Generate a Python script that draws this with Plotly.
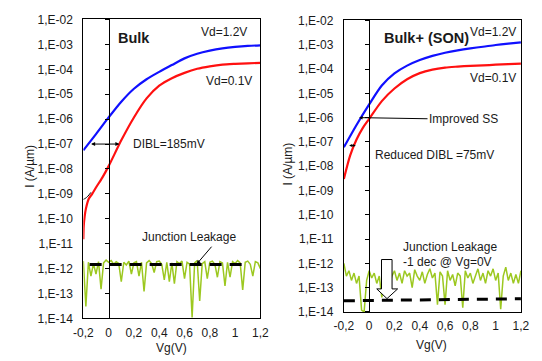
import numpy as np
import plotly.graph_objects as go

# ---------------- data ----------------
# Bulk (left panel)
bulk_x_hi = [-0.2, -0.1, 0.0, 0.1, 0.2, 0.3, 0.4, 0.5, 0.6, 0.7, 0.8, 0.9, 1.0, 1.1, 1.2]
bulk_i_hi = [5.6e-8, 2.5e-7, 1.17e-6, 5.0e-6, 1.66e-5, 4.0e-5, 7.9e-5, 1.48e-4, 2.75e-4, 4.2e-4,
             5.6e-4, 6.9e-4, 7.9e-4, 8.7e-4, 9.2e-4]
bulk_x_lo = [-0.2, -0.197, -0.19, -0.18, -0.157, -0.13, -0.1, -0.05, 0.0, 0.1, 0.2, 0.3,
             0.4, 0.5, 0.6, 0.7, 0.8, 0.9, 1.0, 1.1, 1.2]
bulk_i_lo = [1.5e-11, 5e-11, 1.2e-10, 2.5e-10, 6.4e-10, 1.0e-9, 1.8e-9, 4.5e-9, 1.3e-8, 1.41e-7, 1.17e-6, 6.8e-6,
             2.2e-5, 4.4e-5, 7.2e-5, 1.05e-4, 1.32e-4, 1.55e-4, 1.66e-4, 1.74e-4, 1.82e-4]

# SON (right panel)
son_x_hi = [-0.2, -0.1, 0.0, 0.1, 0.2, 0.3, 0.4, 0.5, 0.6, 0.7, 0.8, 0.9, 1.0, 1.1, 1.2]
son_i_hi = [6.0e-8, 5.0e-7, 3.5e-6, 2.1e-5, 6.6e-5, 1.38e-4, 2.34e-4, 3.5e-4, 4.7e-4, 5.9e-4,
            7.1e-4, 8.3e-4, 9.8e-4, 1.12e-3, 1.26e-3]
son_x_lo = [-0.2, -0.15, -0.1, -0.05, 0.0, 0.1, 0.2, 0.3, 0.4, 0.5, 0.6, 0.7, 0.8, 0.9, 1.0, 1.1, 1.2]
son_i_lo = [3.0e-9, 2.8e-8, 1.26e-7, 3.8e-7, 8.9e-7, 4.8e-6, 1.58e-5, 3.8e-5, 6.8e-5, 9.5e-5,
            1.15e-4, 1.26e-4, 1.35e-4, 1.41e-4, 1.51e-4, 1.58e-4, 1.66e-4]

# junction leakage (measured noise), sampled every 20 mV from -0.2 to 1.2 V
leak_vg = [-0.20, -0.18, -0.16, -0.14, -0.12, -0.10, -0.08, -0.06, -0.04, -0.02,
           0.00, 0.02, 0.04, 0.06, 0.08, 0.10, 0.12, 0.14, 0.16, 0.18,
           0.20, 0.22, 0.24, 0.26, 0.28, 0.30, 0.32, 0.34, 0.36, 0.38,
           0.40, 0.42, 0.44, 0.46, 0.48, 0.50, 0.52, 0.54, 0.56, 0.58,
           0.60, 0.62, 0.64, 0.66, 0.68, 0.70, 0.72, 0.74, 0.76, 0.78,
           0.80, 0.82, 0.84, 0.86, 0.88, 0.90, 0.92, 0.94, 0.96, 0.98,
           1.00, 1.02, 1.04, 1.06, 1.08, 1.10, 1.12, 1.14, 1.16, 1.18, 1.20]
bulk_leak_pA = [2.0, 0.03, 1.8, 0.5, 1.6, 0.6, 1.9, 0.15, 1.7, 2.2,
                1.8, 2.1, 1.5, 1.9, 1.6, 0.3, 1.8, 1.4, 2.0, 0.6,
                1.7, 1.9, 0.5, 1.8, 0.12, 1.7, 2.1, 1.6, 0.7, 1.9,
                2.0, 1.5, 0.35, 1.8, 0.3, 1.7, 0.25, 1.9, 1.6, 2.0,
                0.4, 1.8, 1.5, 0.011, 1.7, 2.1, 0.05, 1.6, 1.9, 0.4,
                1.8, 2.0, 1.5, 0.45, 1.9, 1.7, 0.2, 1.8, 0.45, 1.9,
                1.6, 2.1, 1.7, 0.14, 1.8, 2.0, 1.5, 0.5, 1.9, 1.7, 1.0]
son_leak_e13 = [10, 3, 5, 2, 4, 1.5, 3, 0.12, 0.1, 2,
                5, 2.5, 4, 1.5, 3, 0.4, 2, 3.5, 1.2, 3,
                5, 2, 4, 1.5, 5, 3, 4, 1.0, 5.5, 3,
                2, 4.5, 1.5, 3.5, 6, 2.5, 4, 0.2, 4.5, 3,
                0.2, 5, 2, 3.5, 1.2, 4, 3, 0.15, 5, 2.5,
                4, 1.5, 3, 6, 2, 4, 1.5, 5, 3, 6,
                2, 4, 0.13, 3, 7, 2, 4, 1.5, 3.5, 1.5, 5]

# dashed leakage fits
bulk_fit_x = [-0.15, 1.09]
bulk_fit_i = [1.45e-12, 1.45e-12]
son_fit_x = [-0.2, 1.2]
son_fit_i = [2.9e-14, 3.5e-14]

y_tickvals = [1e-14, 1e-13, 1e-12, 1e-11, 1e-10, 1e-9, 1e-8, 1e-7, 1e-6, 1e-5, 1e-4, 1e-3, 1e-2]
y_ticktext = ['1,E-14', '1,E-13', '1,E-12', '1,E-11', '1,E-10', '1,E-09', '1,E-08',
              '1,E-07', '1,E-06', '1,E-05', '1,E-04', '1,E-03', '1,E-02']
x_tickvals = [-0.2, 0, 0.2, 0.4, 0.6, 0.8, 1.0, 1.2]
x_ticktext = ['-0,2', '0', '0,2', '0,4', '0,6', '0,8', '1', '1,2']

# ---------------- styling ----------------
W, H = 542, 361
FONT = 'Liberation Sans, Arial, sans-serif'
TXT = '#1a1a1a'
BLUE = '#1010ff'
RED = '#ff1010'
GREEN = '#9cc820'

LXD = [76 / W, 259.5 / W]
LYD = [1 - 324 / H, 1 - 13 / H]
RXD = [346 / W, 529.5 / W]
RYD = [1 - 317.3 / H, 1 - 14 / H]

leak_bulk = [v * 1e-12 for v in bulk_leak_pA]
leak_son = [v * 1e-13 for v in son_leak_e13]

fig = go.Figure()

def add(x, y, xa, ya, **kw):
    fig.add_trace(go.Scatter(x=x, y=y, xaxis=xa, yaxis=ya, mode='lines',
                             showlegend=False, hoverinfo='skip', **kw))

# left panel
add(leak_vg, leak_bulk, 'x', 'y', line=dict(color=GREEN, width=1.5))
add(bulk_fit_x, bulk_fit_i, 'x', 'y', line=dict(color='black', width=3, dash='12px,8px'))
add(bulk_x_hi, bulk_i_hi, 'x', 'y', line=dict(color=BLUE, width=2.2, shape='spline', smoothing=0.8))
add(bulk_x_lo, bulk_i_lo, 'x', 'y', line=dict(color=RED, width=2.2, shape='spline', smoothing=0.6))
# small bracket near the subthreshold tail
add([-0.2, -0.185, -0.165, -0.14], [6e-10, 6.6e-10, 8e-10, 1.15e-9], 'x', 'y',
    line=dict(color='black', width=1, shape='spline'))

# right panel
add(leak_vg, leak_son, 'x2', 'y2', line=dict(color=GREEN, width=1.5))
add(son_fit_x, son_fit_i, 'x2', 'y2', line=dict(color='black', width=3, dash='11px,8px'))
add(son_x_hi, son_i_hi, 'x2', 'y2', line=dict(color=BLUE, width=2.2, shape='spline', smoothing=0.8))
add(son_x_lo, son_i_lo, 'x2', 'y2', line=dict(color=RED, width=2.2, shape='spline', smoothing=0.8))
# hollow block arrow "-1 dec"
add([0.0975, 0.181, 0.181, 0.225, 0.141, 0.06, 0.0975, 0.0975],
    [10**-11.84, 10**-11.84, 10**-13.05, 10**-13.05, 10**-13.45, 10**-13.05, 10**-13.05, 10**-11.84],
    'x2', 'y2', fill='toself', fillcolor='white', line=dict(color='black', width=1))

# dummy traces for the Vg=0 axes
add([None], [None], 'x', 'y3')
add([None], [None], 'x2', 'y4')

axis_font = dict(family=FONT, size=12, color=TXT)

def xax(domain, anchor):
    return dict(domain=domain, anchor=anchor, range=[-0.2, 1.2], showgrid=False, zeroline=False,
                showline=True, mirror=True, linecolor='black', linewidth=1,
                tickvals=x_tickvals, ticktext=x_ticktext, ticks='', tickfont=axis_font,
                ticklabelstandoff=3)

def yax(domain, anchor):
    return dict(domain=domain, anchor=anchor, type='log', range=[-14, -2], showgrid=False, zeroline=False,
                showline=True, mirror=True, linecolor='black', linewidth=1,
                tickvals=y_tickvals, ticktext=y_ticktext, ticks='', tickfont=axis_font,
                ticklabelstandoff=7)

def zax(over, xd):
    pos = xd[0] + (0 - (-0.2)) / 1.4 * (xd[1] - xd[0])
    return dict(overlaying=over, anchor='free', position=pos, type='log', range=[-14, -2],
                showgrid=False, zeroline=False, showline=True, linecolor='black', linewidth=1,
                tickvals=y_tickvals, ticks='outside', ticklen=4, tickcolor='black',
                showticklabels=False)

fig.update_layout(
    width=W, height=H, autosize=False,
    margin=dict(l=0, r=0, t=0, b=0),
    paper_bgcolor='white', plot_bgcolor='white',
    font=dict(family=FONT, size=12, color=TXT),
    xaxis=xax(LXD, 'y'), yaxis=yax(LYD, 'x'),
    xaxis2=xax(RXD, 'y2'), yaxis2=yax(RYD, 'x2'),
    yaxis3=zax('y', LXD), yaxis4=zax('y2', RXD),
)

ann = []

def text(x, y, s, xr, yr, xanchor='center', size=12, bold=False):
    ann.append(dict(x=x, y=y, xref=xr, yref=yr, text=('<b>%s</b>' % s) if bold else s,
                    showarrow=False, xanchor=xanchor, yanchor='middle',
                    font=dict(family=FONT, size=size, color=TXT)))

def ptext(px, py, s, angle=0):
    ann.append(dict(x=px / W, y=1 - py / H, xref='paper', yref='paper', text=s, showarrow=False,
                    xanchor='center', yanchor='middle', textangle=angle,
                    font=dict(family=FONT, size=12, color=TXT)))

# left labels
text(0.06, -2.73, 'Bulk', 'x', 'y', 'left', 14.5, True)
text(1.11, -2.49, 'Vd=1.2V', 'x', 'y', 'right')
text(1.15, -4.46, 'Vd=0.1V', 'x', 'y', 'right')
text(0.174, -7.0, 'DIBL=185mV', 'x', 'y', 'left')
text(0.637, -10.73, 'Junction Leakage', 'x', 'y')
# right labels
text(0.098, -2.72, 'Bulk+ (SON)', 'x2', 'y2', 'left', 14.5, True)
text(1.178, -2.46, 'Vd=1.2V', 'x2', 'y2', 'right')
text(1.178, -4.35, 'Vd=0.1V', 'x2', 'y2', 'right')
text(0.029, -7.53, 'Reduced DIBL =75mV', 'x2', 'y2', 'left')
text(0.25, -11.33, 'Junction Leakage', 'x2', 'y2', 'left')
text(0.25, -11.96, '-1 dec @ Vg=0V', 'x2', 'y2', 'left')

# axis titles
ptext(20, 166, 'I (A/µm)', -90)
ptext(288, 163, 'I (A/µm)', -90)
ptext(167, 355, 'Vg(V)')
ptext(437, 352, 'Vg(V)')

# arrows
ann.append(dict(x=0.085, y=-7.0, ax=-0.15, ay=-7.0, xref='x', yref='y', axref='x', ayref='y',
                text='', showarrow=True, arrowhead=2, startarrowhead=2, arrowside='end+start',
                arrowsize=0.8, arrowwidth=1, arrowcolor='black'))
ann.append(dict(x=0.696, y=-11.82, ax=0.824, ay=-11.06, xref='x', yref='y', axref='x', ayref='y',
                text='', showarrow=True, arrowhead=2, arrowsize=0.8, arrowwidth=1, arrowcolor='black'))
ann.append(dict(x=-0.106, y=-7.15, ax=-0.17, ay=-7.15, xref='x2', yref='y2', axref='x2', ayref='y2',
                text='', showarrow=True, arrowhead=2, startarrowhead=2, arrowside='end+start',
                arrowsize=0.6, arrowwidth=1, arrowcolor='black'))
ann.append(dict(x=-0.08, y=-6.0, ax=0.746, ay=-6.07, xref='x2', yref='y2', axref='x2', ayref='y2',
                text='Improved SS', showarrow=True, arrowhead=2, arrowsize=0.7, arrowwidth=1,
                arrowcolor='black', font=dict(family=FONT, size=12, color=TXT)))

fig.update_layout(annotations=ann)

fig.write_html('out.html')
